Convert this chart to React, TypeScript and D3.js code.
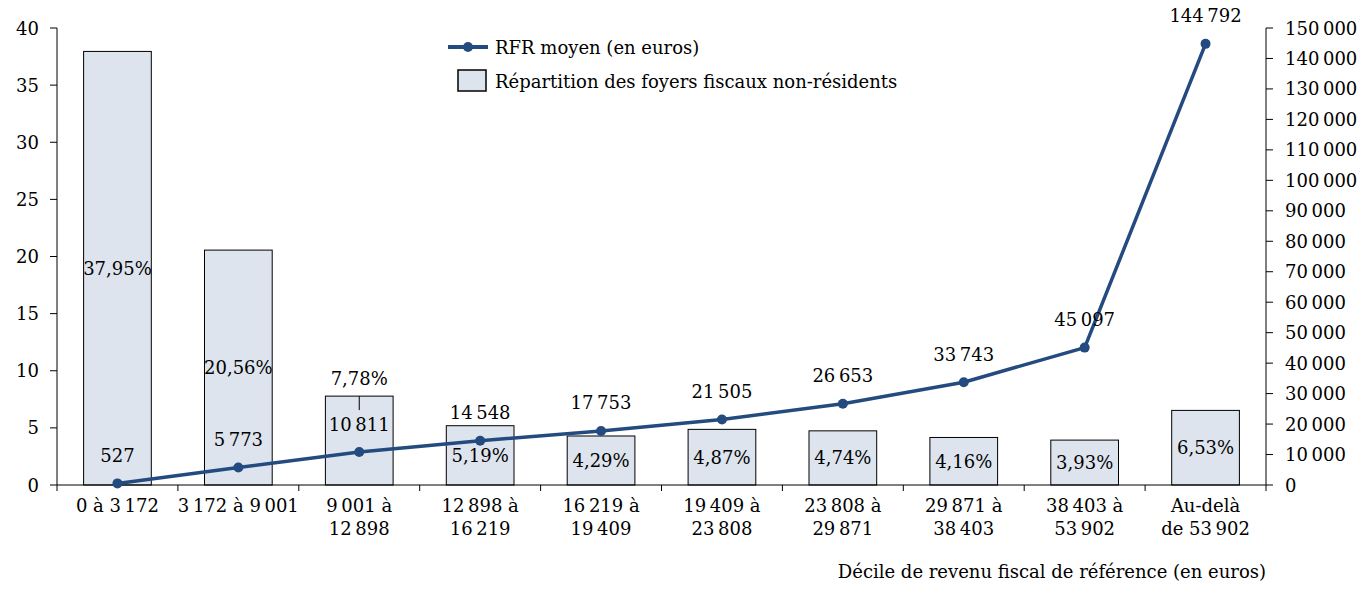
import React from "react";
import * as d3 from "d3";

const categories: string[][] = [
  ["0 à 3 172"],
  ["3 172 à 9 001"],
  ["9 001 à", "12 898"],
  ["12 898 à", "16 219"],
  ["16 219 à", "19 409"],
  ["19 409 à", "23 808"],
  ["23 808 à", "29 871"],
  ["29 871 à", "38 403"],
  ["38 403 à", "53 902"],
  ["Au-delà", "de 53 902"],
];
const shares: number[] = [37.95, 20.56, 7.78, 5.19, 4.29, 4.87, 4.74, 4.16, 3.93, 6.53];
const shareLabels: string[] = ["37,95%", "20,56%", "7,78%", "5,19%", "4,29%", "4,87%", "4,74%", "4,16%", "3,93%", "6,53%"];
const rfr: number[] = [527, 5773, 10811, 14548, 17753, 21505, 26653, 33743, 45097, 144792];
const rfrLabels: string[] = ["527", "5 773", "10 811", "14 548", "17 753", "21 505", "26 653", "33 743", "45 097", "144 792"];
const leftTicks: number[] = [0, 5, 10, 15, 20, 25, 30, 35, 40];
const rightTicks: number[] = d3.range(0, 150001, 10000);

const W = 1370;
const H = 596;
const FONT = "'DejaVu Serif', 'Liberation Serif', serif";
const FS = 18;
const LINE = "#244B7F";
const BAR = "#DDE4EE";
const thin = (s: string) => s.replace(/(\d) (\d)/g, "$1\u2009$2");

export default function App() {
  const left = 57, right = 1266, top = 28, bottom = 485;
  const x = d3.scaleBand<number>().domain(d3.range(categories.length)).range([left, right]).paddingInner(0.44).paddingOuter(0.22);
  const bandStep = (right - left) / categories.length;
  const yL = d3.scaleLinear().domain([0, 40]).range([bottom, top]);
  const yR = d3.scaleLinear().domain([0, 150000]).range([bottom, top]);
  const cx = (i: number) => left + bandStep * (i + 0.5);
  const line = d3.line<number>().x((_, i) => cx(i)).y((d) => yR(d));
  const fmt = (v: number) => d3.format(",")(v).replace(/,/g, "\u2009");

  return (
    <svg width={W} height={H} style={{ position: "absolute", left: 0, top: 0, background: "#fff" }} fontFamily={FONT} fontSize={FS}>
      {/* bars */}
      {shares.map((s, i) => {
        const bw = x.bandwidth();
        const bx = cx(i) - bw / 2;
        return (
          <rect key={"b" + i} x={bx} y={yL(s)} width={bw} height={bottom - yL(s)} fill={BAR} stroke="#000" strokeWidth={1} />
        );
      })}
      {/* bar labels */}
      {shares.map((s, i) => {
        if (i === 2) {
          return (
            <g key={"bl" + i}>
              <text x={cx(i)} y={yL(s) - 18} textAnchor="middle" dominantBaseline="central">{shareLabels[i]}</text>
              <line x1={cx(i)} x2={cx(i)} y1={yL(s)} y2={yL(s) + 14} stroke="#000" />
            </g>
          );
        }
        return (
          <text key={"bl" + i} x={cx(i)} y={(yL(s) + bottom) / 2} textAnchor="middle" dominantBaseline="central">{shareLabels[i]}</text>
        );
      })}
      {/* axes */}
      <line x1={left} x2={left} y1={top} y2={bottom} stroke="#000" />
      <line x1={right} x2={right} y1={top} y2={bottom} stroke="#000" />
      <line x1={left} x2={right} y1={bottom} y2={bottom} stroke="#000" />
      {d3.range(categories.length + 1).map((i) => (
        <line key={"xt" + i} x1={left + bandStep * i} x2={left + bandStep * i} y1={bottom} y2={bottom + 6} stroke="#000" />
      ))}
      {leftTicks.map((t) => (
        <g key={"lt" + t}>
          <line x1={left - 7} x2={left} y1={yL(t)} y2={yL(t)} stroke="#000" />
          <text x={39} y={yL(t)} textAnchor="end" dominantBaseline="central">{t}</text>
        </g>
      ))}
      {rightTicks.map((t) => (
        <g key={"rt" + t}>
          <line x1={right} x2={right + 7} y1={yR(t)} y2={yR(t)} stroke="#000" />
          <text x={1285} y={yR(t)} textAnchor="start" dominantBaseline="central">{fmt(t)}</text>
        </g>
      ))}
      {/* category labels */}
      {categories.map((c, i) => (
        <text key={"c" + i} x={cx(i)} y={505} textAnchor="middle" dominantBaseline="central">
          {c.map((l, j) => (
            <tspan key={j} x={cx(i)} dy={j === 0 ? 0 : 23}>{thin(l)}</tspan>
          ))}
        </text>
      ))}
      <text x={right} y={571} textAnchor="end" dominantBaseline="central">Décile de revenu fiscal de référence (en euros)</text>
      {/* line */}
      <path d={line(rfr) || ""} fill="none" stroke={LINE} strokeWidth={3.5} strokeLinejoin="round" />
      {rfr.map((v, i) => (
        <circle key={"p" + i} cx={cx(i)} cy={yR(v)} r={5} fill={LINE} />
      ))}
      {rfr.map((v, i) => (
        <text key={"rl" + i} x={cx(i)} y={yR(v) - 28} textAnchor="middle" dominantBaseline="central">{thin(rfrLabels[i])}</text>
      ))}
      {/* legend */}
      <line x1={448} x2={488} y1={47} y2={47} stroke={LINE} strokeWidth={4} />
      <circle cx={468} cy={47} r={5} fill={LINE} />
      <text x={495} y={47} dominantBaseline="central">RFR moyen (en euros)</text>
      <rect x={458} y={70} width={28} height={21} fill={BAR} stroke="#000" strokeWidth={1.5} />
      <text x={495} y={81} dominantBaseline="central">Répartition des foyers fiscaux non-résidents</text>
    </svg>
  );
}
